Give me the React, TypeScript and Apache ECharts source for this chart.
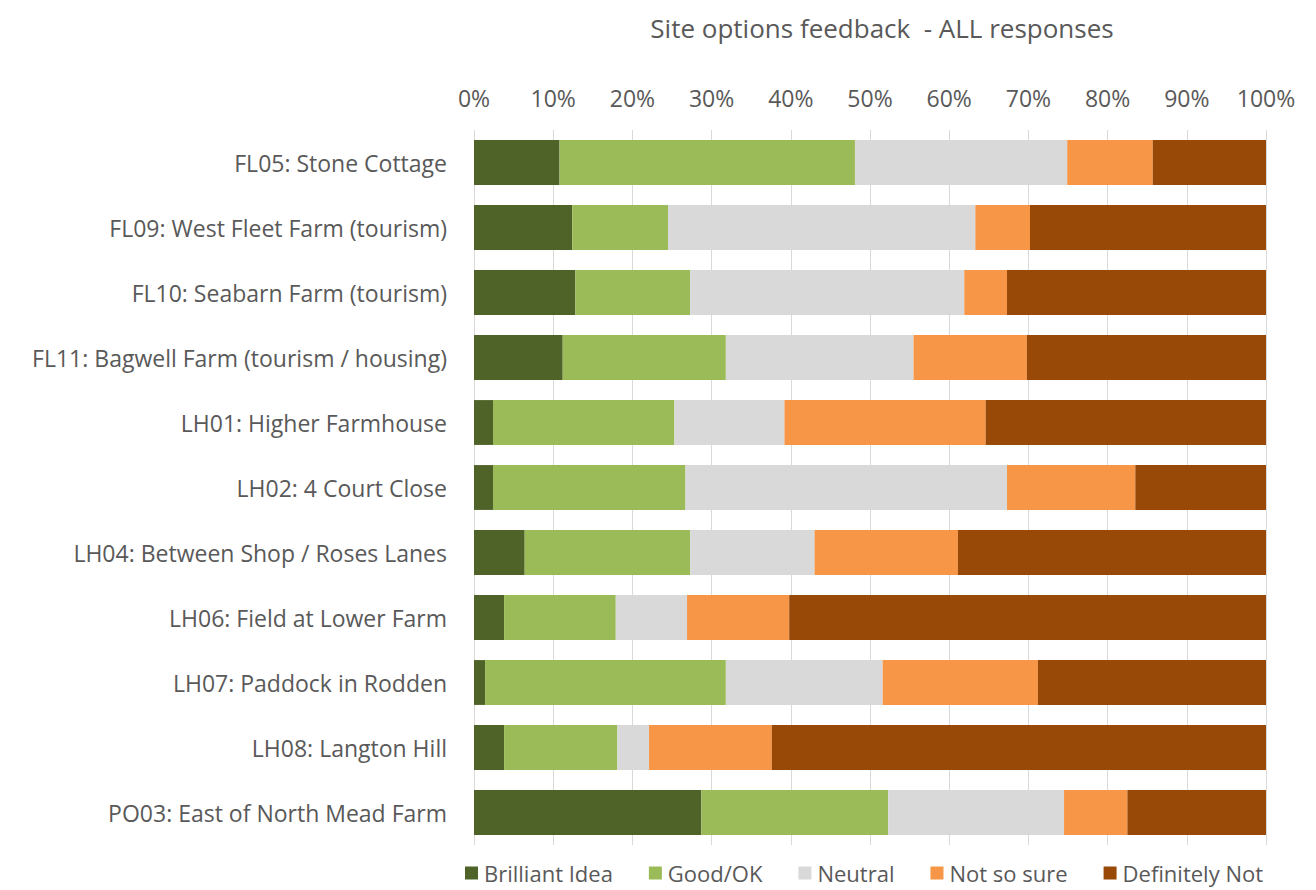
import React, { useEffect, useRef } from "react";
import * as echarts from "echarts";

const categories = [
  "FL05: Stone Cottage",
  "FL09: West Fleet Farm (tourism)",
  "FL10: Seabarn Farm (tourism)",
  "FL11: Bagwell Farm (tourism / housing)",
  "LH01: Higher Farmhouse",
  "LH02: 4 Court Close",
  "LH04: Between Shop / Roses Lanes",
  "LH06: Field at Lower Farm",
  "LH07: Paddock in Rodden",
  "LH08: Langton Hill",
  "PO03: East of North Mead Farm",
];

const brilliantIdea = [10.8, 12.4, 12.8, 11.2, 2.4, 2.4, 6.4, 3.8, 1.4, 3.8, 28.7];
const goodOK = [37.3, 12.1, 14.5, 20.6, 22.9, 24.3, 20.9, 14.1, 30.4, 14.3, 23.6];
const neutral = [26.8, 38.8, 34.6, 23.7, 13.9, 40.6, 15.7, 9.0, 19.8, 4.0, 22.2];
const notSoSure = [10.8, 6.9, 5.4, 14.3, 25.4, 16.2, 18.1, 12.9, 19.6, 15.5, 8.0];
const definitelyNot = [14.3, 29.8, 32.7, 30.2, 35.4, 16.5, 38.9, 60.2, 28.8, 62.4, 17.5];

const seriesNames = ["Brilliant Idea", "Good/OK", "Neutral", "Not so sure", "Definitely Not"];
const seriesColors = ["#4f6228", "#9bbb59", "#d9d9d9", "#f79646", "#984807"];
const seriesData = [brilliantIdea, goodOK, neutral, notSoSure, definitelyNot];

const FONT = "'Open Sans', 'Noto Sans', sans-serif";

export default function App() {
  const ref = useRef<HTMLDivElement>(null);
  useEffect(() => {
    if (!ref.current) return;
    const chart = echarts.init(ref.current, null, { renderer: "svg" });
    chart.setOption({
      animation: false,
      backgroundColor: "#ffffff",
      title: {
        text: "Site options feedback  - ALL responses",
        left: 877,
        top: 10,
        textAlign: "center",
        textStyle: { fontFamily: FONT, fontSize: 26, fontWeight: "normal", color: "#595959" },
      },
      legend: {
        data: seriesNames,
        left: 465,
        top: 862,
        padding: 0,
        itemWidth: 13,
        itemHeight: 13,
        itemGap: 36,
        icon: "rect",
        textStyle: { fontFamily: FONT, fontSize: 22, color: "#595959", padding: [0, 0, 0, 1] },
      },
      grid: { left: 474, right: 50, top: 130, bottom: 45, containLabel: false },
      xAxis: {
        type: "value",
        position: "top",
        min: 0,
        max: 100,
        interval: 10,
        axisLine: { show: false },
        axisTick: { show: false },
        axisLabel: {
          formatter: "{value}%",
          fontFamily: FONT,
          fontSize: 23,
          color: "#595959",
          margin: 21,
        },
        splitLine: { show: true, lineStyle: { color: "#d9d9d9", width: 1 } },
      },
      yAxis: {
        type: "category",
        data: categories,
        inverse: true,
        axisLine: { show: false },
        axisTick: { show: false },
        axisLabel: { fontFamily: FONT, fontSize: 23, color: "#595959", margin: 27 },
      },
      series: seriesNames.map((name, i) => ({
        name,
        type: "bar",
        stack: "total",
        barCategoryGap: "31%",
        itemStyle: { color: seriesColors[i] },
        data: seriesData[i],
      })),
    });
    return () => chart.dispose();
  }, []);
  return (
    <div
      ref={ref}
      style={{ position: "absolute", left: 0, top: 0, width: 1316, height: 890 }}
    />
  );
}
